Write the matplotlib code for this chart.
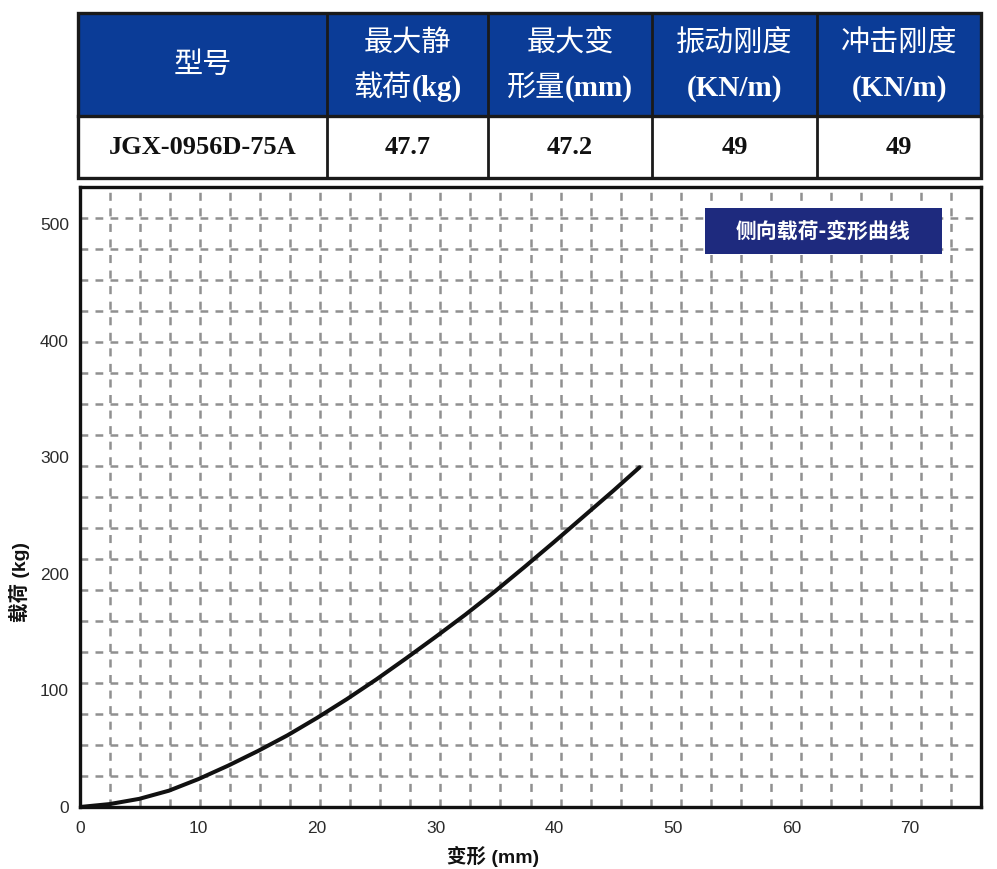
import matplotlib
matplotlib.use('Agg')
import matplotlib.pyplot as plt
import numpy as np
import re
from matplotlib.patches import Rectangle

plt.rcParams['lines.scale_dashes'] = False

# ---------------- data ----------------
deform_mm = [0, 2.5, 5, 7.5, 10, 12.5, 15, 17.5, 20, 22.5, 25, 27.5, 30,
             32.5, 35, 37.5, 40, 42.5, 45, 47.2]
load_kg = [0, 2.5, 7, 14, 24, 35.5, 48, 61.5, 76.5, 92.5, 109.5, 127.5, 146,
           165, 185, 206, 227.5, 249.5, 271.5, 291.5]
x_ticks = [0, 10, 20, 30, 40, 50, 60, 70]
y_ticks = [0, 100, 200, 300, 400, 500]
x_max = 76
y_max = 532
x_divisions = 30
y_divisions = 20

header_line1 = ['型号', '最大静', '最大变', '振动刚度', '冲击刚度']
header_line2 = ['', '载荷(kg)', '形量(mm)', '(KN/m)', '(KN/m)']
row_values = ['JGX-0956D-75A', '47.7', '47.2', '49', '49']
chart_title = '侧向载荷-变形曲线'
x_label = '变形 (mm)'
y_label = '载荷 (kg)'

# ---------------- figure ----------------
W, H = 997, 869
fig = plt.figure(figsize=(W / 100, H / 100), dpi=100)

ax_l, ax_r, ax_t, ax_b = 80, 981, 187, 807
ax = fig.add_axes([ax_l / W, (H - ax_b) / H, (ax_r - ax_l) / W, (ax_b - ax_t) / H])
ax.set_xlim(0, x_max)
ax.set_ylim(0, y_max)

# dashed "L" grid
ax.set_xticks(np.arange(1, x_divisions) * x_max / x_divisions, minor=True)
ax.set_yticks(np.arange(1, y_divisions) * y_max / y_divisions, minor=True)
grid_col = '#909090'
ax.xaxis.grid(True, which='minor', color=grid_col, linewidth=1.8,
              linestyle=(0, (5.8, 5.4)))
ax.yaxis.grid(True, which='minor', color=grid_col, linewidth=1.8,
              linestyle=(0, (5.6, 5.2)))
ax.set_axisbelow(True)

ax.plot(deform_mm, load_kg, color='#111111', linewidth=2.9,
        solid_capstyle='round', solid_joinstyle='round', zorder=3)

ax.set_xticks(x_ticks)
ax.set_yticks(y_ticks)
ax.tick_params(which='both', length=0)
ax.tick_params(axis='x', pad=10)
ax.tick_params(axis='y', pad=8)
for lab in ax.get_xticklabels() + ax.get_yticklabels():
    lab.set_fontfamily('Liberation Sans')
    lab.set_fontsize(12.5)
    lab.set_color('#2b2b2b')
for sp in ax.spines.values():
    sp.set_linewidth(2.4)
    sp.set_color('#111111')

# ---------------- overlay (table, title box, labels) ----------------
ov = fig.add_axes([0, 0, 1, 1])
ov.set_xlim(0, W)
ov.set_ylim(H, 0)
ov.axis('off')
renderer = fig.canvas.get_renderer()

col_edges = [78, 327, 488, 652, 817, 981]
tbl_top, tbl_mid, tbl_bot = 13, 116, 178
header_blue = '#0b3c97'
for i in range(len(header_line1)):
    ov.add_patch(Rectangle((col_edges[i], tbl_top), col_edges[i + 1] - col_edges[i],
                           tbl_mid - tbl_top, facecolor=header_blue, edgecolor='none'))
lc = '#1a1a1a'
ov.add_patch(Rectangle((col_edges[0], tbl_top), col_edges[-1] - col_edges[0],
                       tbl_bot - tbl_top, facecolor='none', edgecolor=lc, linewidth=2.4))
ov.plot([col_edges[0], col_edges[-1]], [tbl_mid, tbl_mid], color=lc, linewidth=2.4)
for xe in col_edges[1:-1]:
    ov.plot([xe, xe], [tbl_top, tbl_bot], color=lc, linewidth=2.0)


def draw_runs(cx, cy, s, size, color):
    """Draw CJK runs in Noto Sans CJK (medium) and Latin runs in Liberation Serif bold."""
    parts = re.findall(r'[\u4e00-\u9fff]+|[^\u4e00-\u9fff]+', s)
    texts = []
    for p in parts:
        if re.match(r'[\u4e00-\u9fff]', p):
            t = ov.text(0, cy, p, ha='left', va='center', color=color, fontsize=size,
                        family='Noto Sans CJK SC', fontweight='medium')
        else:
            t = ov.text(0, cy, p, ha='left', va='center', color=color, fontsize=size,
                        family='Liberation Serif', fontweight='bold')
        texts.append(t)
    widths = [t.get_window_extent(renderer).width for t in texts]
    x = cx - sum(widths) / 2
    for t, w in zip(texts, widths):
        t.set_x(x)
        x += w


for i in range(len(header_line1)):
    cx = (col_edges[i] + col_edges[i + 1]) / 2
    if header_line2[i]:
        draw_runs(cx, 43, header_line1[i], 21, 'white')
        draw_runs(cx, 88, header_line2[i], 21, 'white')
    else:
        draw_runs(cx, 65, header_line1[i], 21, 'white')
    ov.text(cx, 148, row_values[i], ha='center', va='center', color='#111111',
            fontsize=19, fontweight='bold', family='Liberation Serif')

# chart title box
ov.add_patch(Rectangle((705, 208), 237, 46, facecolor='#1e2a7e', edgecolor='none'))
ov.text(823.5, 231, chart_title, ha='center', va='center', color='white',
        fontsize=15, fontweight='bold', family=['Noto Sans CJK SC', 'DejaVu Sans'])

lab_fam = ['Liberation Sans', 'Noto Sans CJK SC']
ov.text(493, 856, x_label, ha='center', va='center', color='#111111',
        fontsize=14, fontweight='bold', family=lab_fam)
ov.text(19, 582, y_label, ha='center', va='center', color='#111111', rotation=90,
        fontsize=14, fontweight='bold', family=lab_fam)

fig.savefig('out.png', dpi=100, facecolor='white')
